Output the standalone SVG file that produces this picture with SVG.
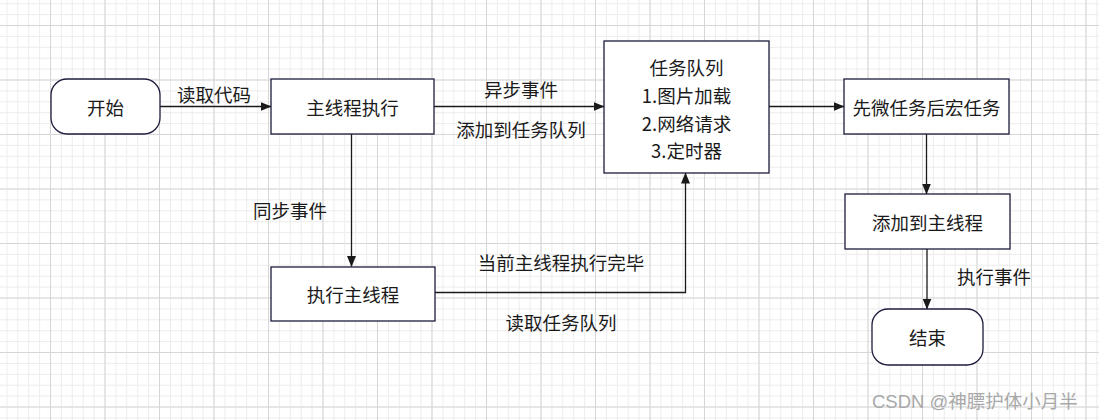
<svg xmlns="http://www.w3.org/2000/svg" width="1099" height="420" viewBox="0 0 1099 420">
<defs>
<pattern id="minor" x="6.4" y="3.2" width="10.9" height="10.9" patternUnits="userSpaceOnUse">
<path d="M0.5 0 V10.9 M0 0.5 H10.9" fill="none" stroke="#ececec" stroke-width="1"/>
</pattern>
<pattern id="major" x="-4.5" y="-29.5" width="54.5" height="54.5" patternUnits="userSpaceOnUse">
<path d="M0.5 0 V54.5 M0 0.5 H54.5" fill="none" stroke="#d6d6d6" stroke-width="1"/>
</pattern>
<marker id="arr" markerWidth="11" markerHeight="9" refX="10.5" refY="4.5" orient="auto" markerUnits="userSpaceOnUse">
<path d="M0 0 L11 4.5 L0 9 Z" fill="#1a1a1a"/>
</marker>
</defs>
<style>
.box{fill:#fff;stroke:#1c1c3c;stroke-width:1.3}
.t{font-family:"Noto Sans CJK SC","Microsoft YaHei",sans-serif;font-size:18.5px;fill:#1a1a1a;text-anchor:middle;dominant-baseline:central}
.c{fill:none;stroke:#1a1a1a;stroke-width:1.3;marker-end:url(#arr)}
.wm{font-family:"Liberation Sans","Noto Sans CJK SC",sans-serif;font-size:18.5px;fill:#a8a8a8;text-anchor:start;dominant-baseline:central}
</style>
<rect width="1099" height="420" fill="#fff"/>
<rect width="1099" height="420" fill="url(#minor)"/>
<rect width="1099" height="420" fill="url(#major)"/>
<g id="connectors">
<path class="c" d="M160 106.5 H271"/>
<path class="c" d="M434 106.5 H604"/>
<path class="c" d="M769 106.5 H844"/>
<path class="c" d="M926.5 134 V194"/>
<path class="c" d="M927 249 V309"/>
<path class="c" d="M351.5 134 V266.5"/>
<path class="c" d="M435 292.5 H685.5 V173"/>
<text class="t" x="214" y="94">读取代码</text>
<text class="t" x="521" y="89">异步事件</text>
<text class="t" x="521" y="129">添加到任务队列</text>
<text class="t" x="290" y="210">同步事件</text>
<text class="t" x="561" y="262">当前主线程执行完毕</text>
<text class="t" x="561" y="322">读取任务队列</text>
<text class="t" x="994" y="276">执行事件</text>
</g>
<g id="start"><rect class="box" x="51" y="79" width="109" height="55" rx="16"/><text class="t" x="105.5" y="106.5">开始</text></g>
<g id="main-exec"><rect class="box" x="271" y="79" width="163" height="55"/><text class="t" x="352.5" y="106.5">主线程执行</text></g>
<g id="task-queue"><rect class="box" x="604" y="41" width="165" height="132"/>
<text class="t" x="686.5" y="67">任务队列</text>
<text class="t" x="686.5" y="95">1.图片加载</text>
<text class="t" x="686.5" y="122.5">2.网络请求</text>
<text class="t" x="686.5" y="150">3.定时器</text></g>
<g id="micro-macro"><rect class="box" x="844" y="79" width="165" height="55"/><text class="t" x="926.5" y="106.5">先微任务后宏任务</text></g>
<g id="add-main"><rect class="box" x="845" y="194" width="165" height="55"/><text class="t" x="927.5" y="221.5">添加到主线程</text></g>
<g id="end"><rect class="box" x="872" y="309" width="111" height="56" rx="16"/><text class="t" x="927.5" y="337">结束</text></g>
<g id="run-main"><rect class="box" x="271" y="267" width="164" height="54"/><text class="t" x="353" y="294">执行主线程</text></g>
<text class="wm" x="872" y="401">CSDN @神膘护体小月半</text>
</svg>
